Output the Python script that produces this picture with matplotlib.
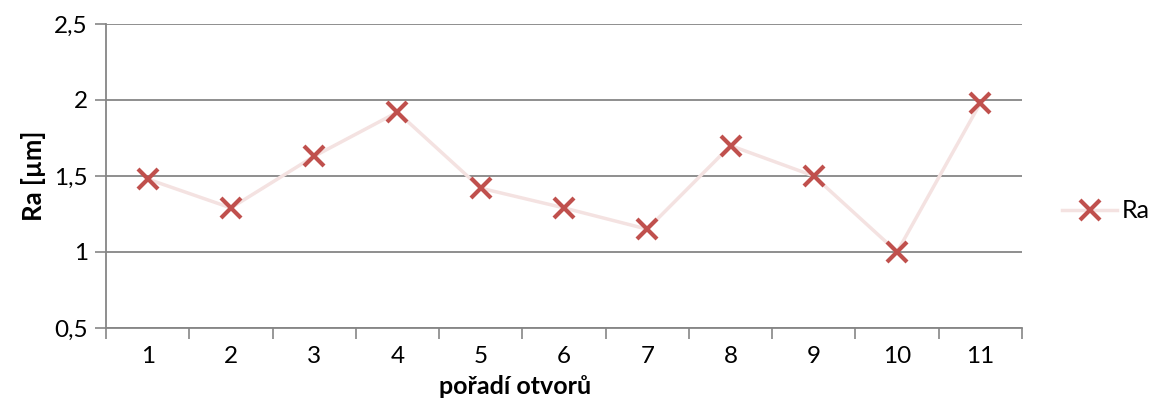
import matplotlib.pyplot as plt
import numpy as np
from matplotlib.ticker import FixedLocator, FuncFormatter

# order of holes and measured roughness
holes = ["1", "2", "3", "4", "5", "6", "7", "8", "9", "10", "11"]
ra_values = [1.48, 1.29, 1.63, 1.92, 1.42, 1.29, 1.15, 1.70, 1.50, 1.00, 1.98]

plt.rcParams['font.family'] = ['Lato', 'DejaVu Sans']

GRID = '#868686'

fig = plt.figure(figsize=(11.53, 4.0), dpi=100)
ax = fig.add_axes([106 / 1153, 1 - 328 / 400, 916 / 1153, 304 / 400])

x = np.arange(1, len(holes) + 1)
line, = ax.plot(x, ra_values, color='#F4E2E1', lw=2.5, marker='x', ms=14,
                mec='#C0504D', mew=3, zorder=3, label='Ra')

ax.set_xlim(0.5, len(holes) + 0.5)
ax.set_ylim(0.5, 2.5)
ax.set_yticks([0.5, 1.0, 1.5, 2.0, 2.5])
ax.yaxis.set_major_formatter(FuncFormatter(lambda v, p: f"{v:g}".replace('.', ',')))

ax.set_xticks(x)
ax.set_xticklabels(holes)
ax.xaxis.set_minor_locator(FixedLocator(np.arange(0.5, len(holes) + 1, 1)))
ax.tick_params(axis='x', which='major', length=0, pad=13, labelsize=17.5)
ax.tick_params(axis='x', which='minor', length=8, width=1.2, color=GRID)
ax.tick_params(axis='y', length=8, width=1.2, color=GRID, labelsize=17.5, pad=5)

ax.grid(axis='y', color=GRID, lw=1.3)
for s in ['top', 'right']:
    ax.spines[s].set_visible(False)
for s in ['left', 'bottom']:
    ax.spines[s].set_color(GRID)
    ax.spines[s].set_linewidth(1.3)

ax.set_ylabel('Ra [µm]', fontsize=18.5, fontweight='bold', labelpad=6)
fig.text(515 / 1153, 1 - 394 / 400, 'pořadí otvorů', fontsize=18, fontweight='bold',
         ha='center', va='baseline')

fig.legend(handles=[line], loc='center left', bbox_to_anchor=(1062 / 1153, 1 - 211 / 400),
           frameon=False, fontsize=18, handlelength=2.2, handletextpad=0.2,
           borderpad=0, borderaxespad=0)

fig.savefig('out.png')
